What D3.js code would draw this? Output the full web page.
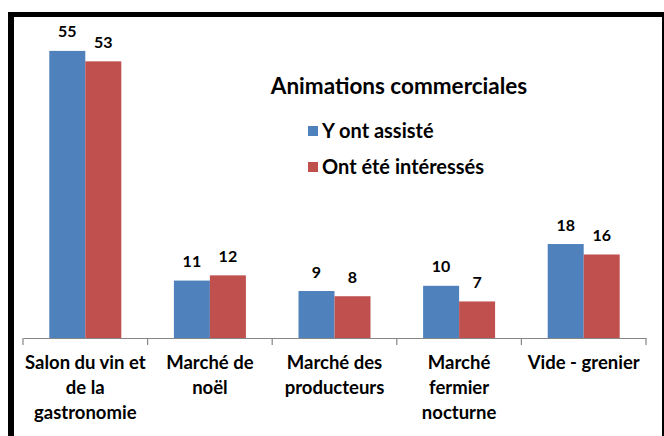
<!DOCTYPE html>
<html>
<head>
<meta charset="utf-8">
<script src="https://cdn.jsdelivr.net/npm/d3@7"></script>
<style>
  body { margin: 0; background: #fff; }
  svg { display: block; font-family: Lato, "Open Sans", sans-serif; font-weight: bold; }
</style>
</head>
<body>
<div id="chart"></div>
<script>
const categories = ["Salon du vin et de la gastronomie", "Marché de noël", "Marché des producteurs", "Marché fermier nocturne", "Vide - grenier"]
const labelLines = [
  ["Salon du vin et", "de la", "gastronomie"],
  ["Marché de", "noël"],
  ["Marché des", "producteurs"],
  ["Marché", "fermier", "nocturne"],
  ["Vide - grenier"]
]
const seriesNames = ["Y ont assisté", "Ont été intéressés"]
const assiste = [55, 11, 9, 10, 18]
const interesse = [53, 12, 8, 7, 16]
const title = "Animations commerciales"

const width = 664
const height = 436
const colors = ["#4f81bd", "#c0504d"]

const data = categories.map((c, i) => ({ cat: c, values: [assiste[i], interesse[i]] }))

const svg = d3.select("#chart").append("svg")
  .attr("width", width)
  .attr("height", height)

// frame with heavy top/left edge
svg.append("rect").attr("x", 8).attr("y", 12).attr("width", width - 8).attr("height", height)
  .attr("fill", "#000")
svg.append("rect").attr("x", 14).attr("y", 17).attr("width", width - 16).attr("height", height)
  .attr("fill", "#fff")

const x = d3.scaleBand()
  .domain(categories)
  .range([23, 646])

const x1 = d3.scaleBand()
  .domain([0, 1])
  .range([0, 72])

const y = d3.scaleLinear()
  .domain([0, 60])
  .range([338, 24.8])

const groups = svg.append("g").selectAll("g")
  .data(data)
  .join("g")
  .attr("transform", d => `translate(${x(d.cat) + (x.bandwidth() - 72) / 2},0)`)

groups.selectAll("rect")
  .data(d => d.values)
  .join("rect")
  .attr("x", (d, j) => x1(j))
  .attr("y", d => y(d))
  .attr("width", x1.bandwidth())
  .attr("height", d => y(0) - y(d))
  .attr("fill", (d, j) => colors[j])

groups.selectAll("text")
  .data(d => d.values)
  .join("text")
  .attr("x", (d, j) => x1(j) + x1.bandwidth() / 2)
  .attr("y", d => y(d) - 13.5)
  .attr("text-anchor", "middle")
  .attr("font-size", 16)
  .attr("fill", "#000")
  .text(d => d)

// axis
const xAxis = g => g
  .attr("transform", `translate(0,${y(0)})`)
  .call(d3.axisBottom(x).tickSize(0).tickFormat(""))
  .call(g => g.select(".domain").attr("stroke", "#868686").attr("stroke-width", 1.2))

svg.append("g").call(xAxis)

const tickPos = categories.map(c => x(c)).concat([x.range()[1]])
svg.append("g").selectAll("line")
  .data(tickPos)
  .join("line")
  .attr("x1", d => d).attr("x2", d => d)
  .attr("y1", y(0)).attr("y2", y(0) + 7)
  .attr("stroke", "#868686")
  .attr("stroke-width", 1.2)

svg.append("g").selectAll("text")
  .data(categories)
  .join("text")
  .attr("text-anchor", "middle")
  .attr("font-size", 18.5)
  .attr("fill", "#000")
  .each(function(c, i) {
    d3.select(this).selectAll("tspan")
      .data(labelLines[i])
      .join("tspan")
      .attr("x", x(c) + x.bandwidth() / 2)
      .attr("y", (t, k) => y(0) + 31 + k * 25)
      .text(t => t)
  })

// title + legend
svg.append("text")
  .attr("x", 399)
  .attr("y", 94)
  .attr("text-anchor", "middle")
  .attr("font-size", 22.5)
  .attr("fill", "#000")
  .text(title)

const legend = svg.append("g").selectAll("g")
  .data(seriesNames)
  .join("g")
  .attr("transform", (d, i) => `translate(308,${126 + i * 36})`)

legend.append("rect")
  .attr("width", 10).attr("height", 10)
  .attr("fill", (d, i) => colors[i])

legend.append("text")
  .attr("x", 14)
  .attr("y", 12)
  .attr("font-size", 20)
  .attr("fill", "#000")
  .text(d => d)
</script>
</body>
</html>
